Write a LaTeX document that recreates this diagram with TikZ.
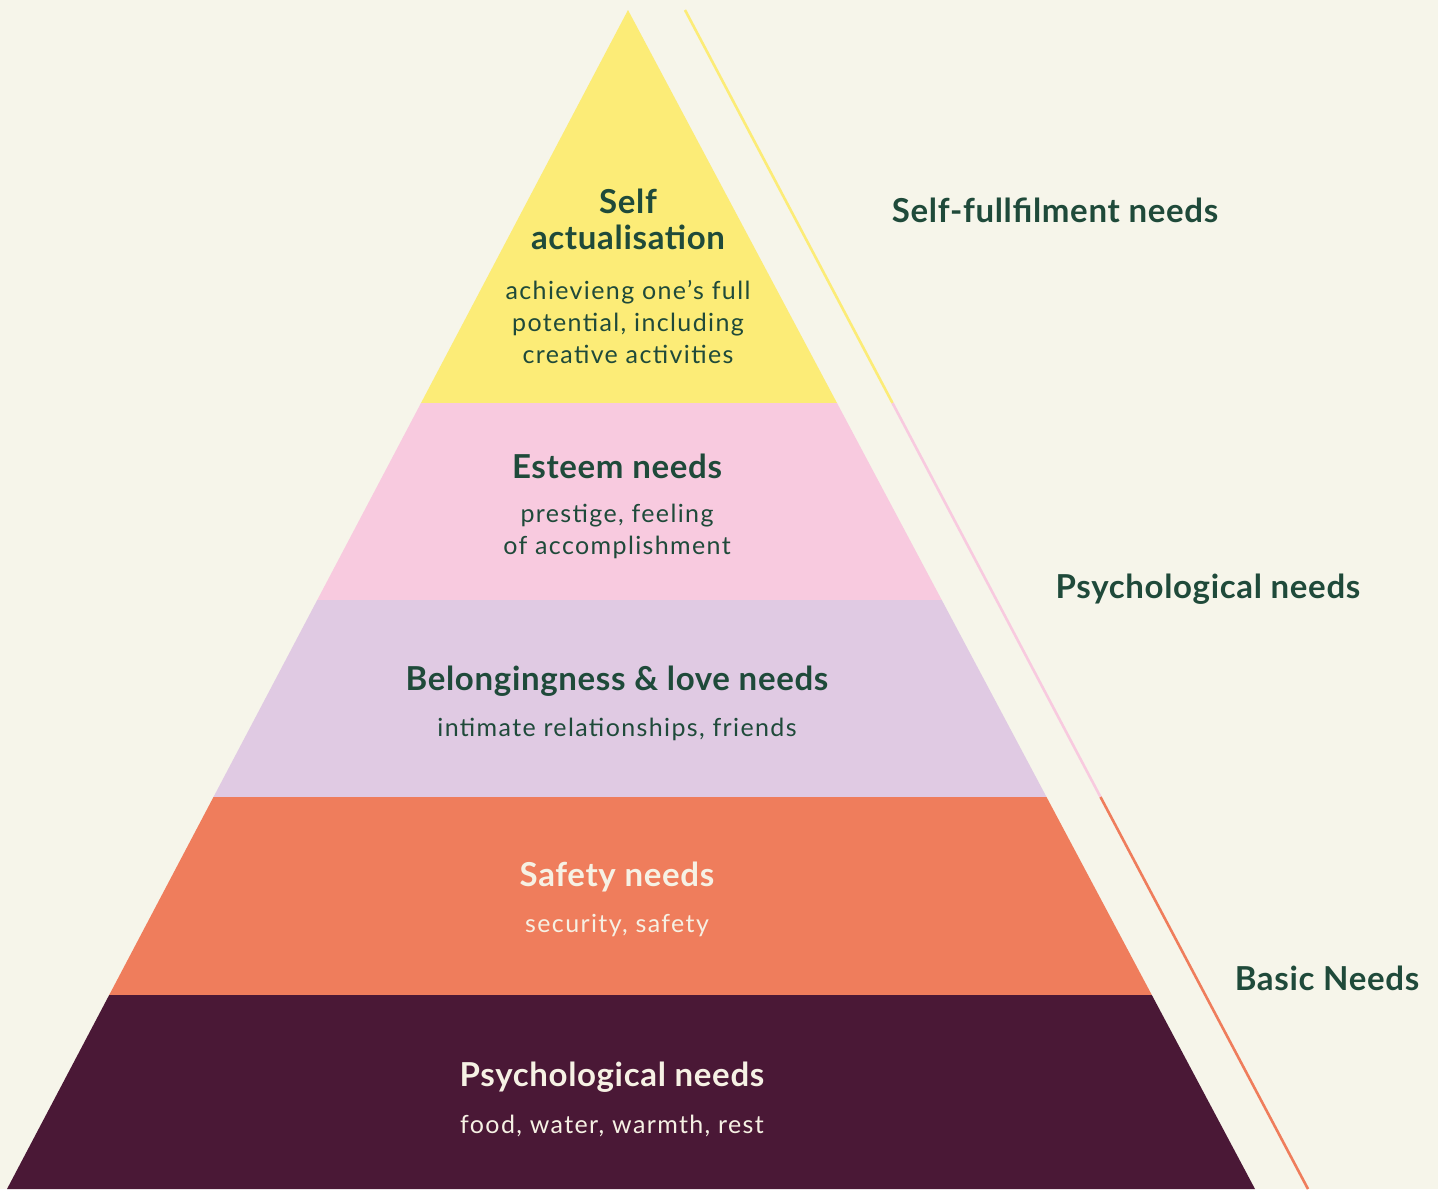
\documentclass[tikz,border=0pt]{standalone}
\usepackage{fontspec}
\setmainfont{Lato}
\newfontfamily\headfont[LetterSpace=2]{Lato}
\newfontfamily\bodyfont[LetterSpace=5.5]{Lato}
\definecolor{bg}{HTML}{F6F5EA}
\definecolor{cyellow}{HTML}{FCEC77}
\definecolor{cpink}{HTML}{F8CADF}
\definecolor{clav}{HTML}{E0CAE3}
\definecolor{corange}{HTML}{EF7D5C}
\definecolor{cplum}{HTML}{4A1836}
\definecolor{tgreen}{HTML}{1F4A3A}
\definecolor{tlight}{HTML}{F6F1E4}
\begin{document}
\begin{tikzpicture}[x=0.5pt,y=-0.5pt,
  head/.style={font=\headfont\fontsize{16.5}{19}\selectfont\bfseries, align=center, inner sep=0pt},
  body/.style={font=\bodyfont\fontsize{12.5}{16}\selectfont, align=center, inner sep=0pt},
  side/.style={font=\headfont\fontsize{16.5}{19}\selectfont\bfseries, text=tgreen, inner sep=0pt},
  seg/.style={line width=1.3pt}]
\fill[bg] (0,0) rectangle (1438,1189);
\useasboundingbox (0,0) rectangle (1438,1189);
% pyramid
\begin{scope}
\clip (628,10) -- (1255,1189) -- (7,1189) -- cycle;
\fill[cyellow] (0,0) rectangle (1438,403);
\fill[cpink] (0,403) rectangle (1438,600);
\fill[clav] (0,600) rectangle (1438,797);
\fill[corange] (0,797) rectangle (1438,995);
\fill[cplum] (0,995) rectangle (1438,1190);
\end{scope}
% side line
\coordinate (l0) at (685,10);
\coordinate (l1) at (892.5,403);
\coordinate (l2) at (1100.5,797);
\coordinate (l3) at (1308,1189);
\draw[seg, cyellow] (l0) -- (l1);
\draw[seg, cpink] (l1) -- (l2);
\draw[seg, corange] (l2) -- (l3);
% texts
\node[head, text=tgreen] (h1) at (628,219) {Self\\[-1pt]actualisation};
\node[body, text=tgreen] (b1) at (628,322) {achievieng one’s full\\potential, including\\creative activities};
\node[head, text=tgreen] (h2) at (617,466) {Esteem needs};
\node[body, text=tgreen] (b2) at (617,531) {prestige, feeling\\of accomplishment};
\node[head, text=tgreen] (h3) at (617,681) {Belongingness \& love needs};
\node[body, text=tgreen] (b3) at (617,729) {intimate relationships, friends};
\node[head, text=tlight] (h4) at (617,877) {Safety needs};
\node[body, text=tlight] (b4) at (617,926) {security, safety};
\node[head, text=tlight] (h5) at (612,1077) {Psychological needs};
\node[body, text=tlight] (b5) at (612,1126) {food, water, warmth, rest};
% side labels
\node[side] (s1) at (1055,210) {Self-fullfilment needs};
\node[side] (s2) at (1208,589) {Psychological needs};
\node[side] (s3) at (1327,978) {Basic Needs};
\end{tikzpicture}
\end{document}
